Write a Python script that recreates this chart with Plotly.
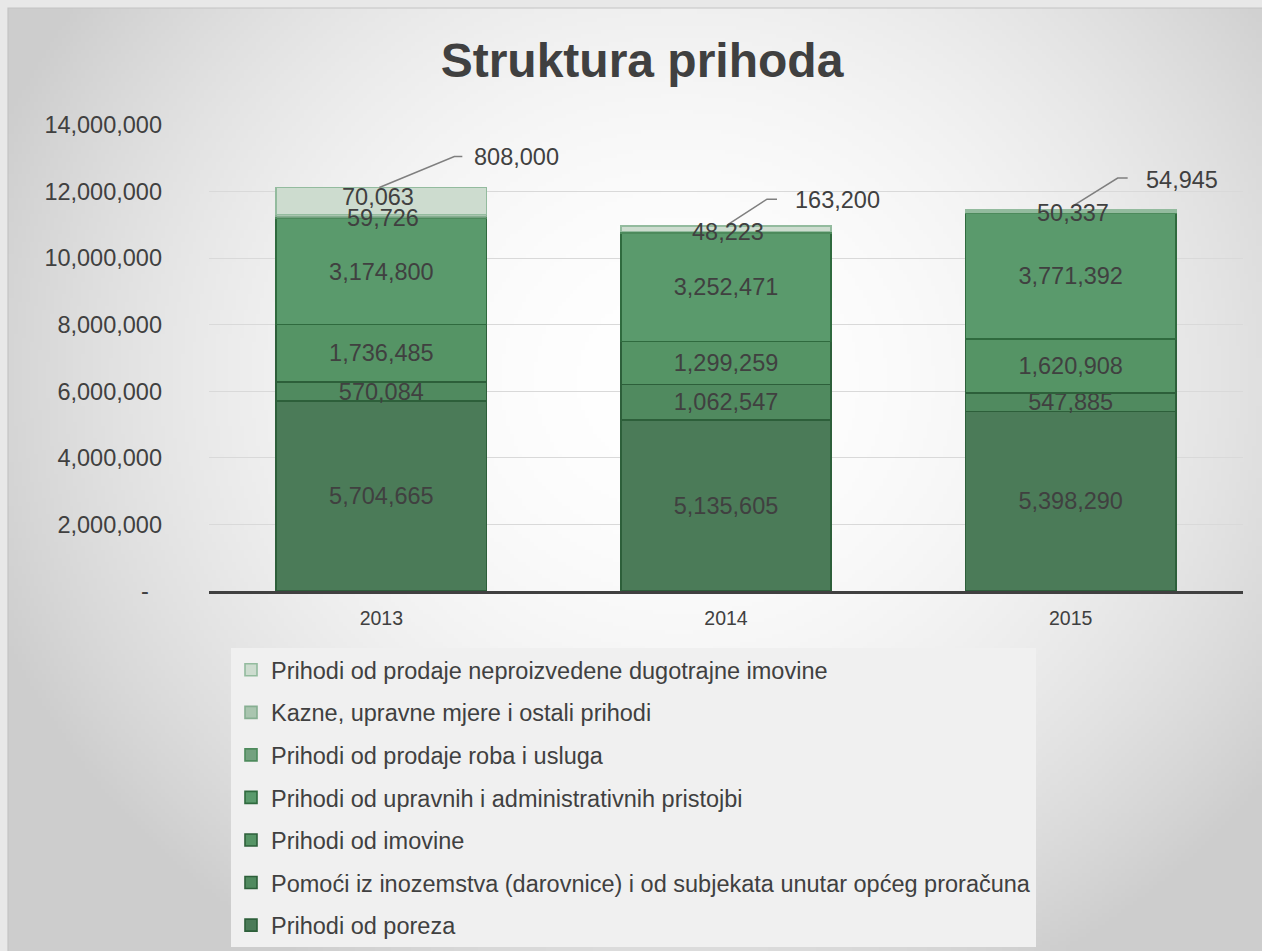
import base64
import struct
import zlib

import numpy as np
import plotly.graph_objects as go

# ---------------- data ----------------
years = ["2013", "2014", "2015"]

series_names = [
    "Prihodi od poreza",
    "Pomoći iz inozemstva (darovnice) i od subjekata unutar općeg proračuna",
    "Prihodi od imovine",
    "Prihodi od upravnih i administrativnih pristojbi",
    "Prihodi od prodaje roba i usluga",
    "Kazne, upravne mjere i ostali prihodi",
    "Prihodi od prodaje neproizvedene dugotrajne imovine",
]
poreza = [5704665, 5135605, 5398290]
pomoci = [570084, 1062547, 547885]
imovina = [1736485, 1299259, 1620908]
pristojbe = [3174800, 3252471, 3771392]
roba_usluge = [59726, 48223, 50337]
kazne = [70063, None, None]
neproizvedena = [808000, 163200, 54945]

y_tickvals = [0, 2000000, 4000000, 6000000, 8000000, 10000000, 12000000, 14000000]
y_ticktext = ["-\u00a0\u00a0", "2,000,000", "4,000,000", "6,000,000", "8,000,000",
              "10,000,000", "12,000,000", "14,000,000"]

# ---------------- style ----------------
FONT = "Liberation Sans, Arial, sans-serif"
TXT = "#404040"
fill_colors = ["#4b7b58", "#508a5f", "#559465", "#5a9a6c", "#73a17f", "#a9c5af", "#cddccf"]
line_colors = ["#2d5f3a", "#2d5f3a", "#2d5f3a", "#2f6a3e", "#4d8a5c", "#86ae91", "#93bb9e"]
W_PX, H_PX = 1262, 951
L, R, T, B = 209, 19, 125, 360
PW, PH = W_PX - L - R, H_PX - T - B

# leader-line geometry for the top callouts (pixels relative to bar top)
callout_geom = [
    dict(sx=-2, sy=0, mx=73, my=31, ex=81, tx=91, ty=30),
    dict(sx=1, sy=1, mx=41, my=27, ex=51, tx=67, ty=26),
    dict(sx=2, sy=4, mx=47, my=32, ex=57, tx=73, ty=30),
]

# ---------------- background gradient (png) ----------------
gw, gh = 316, 236
gx = np.linspace(8, W_PX, gw)
gy = np.linspace(8, H_PX, gh)
GX, GY = np.meshgrid(gx, gy)
d2 = ((GX - 680) / 740) ** 2 + ((GY - 380) / 680) ** 2
gray = (255 - 50 * np.clip(d2, 0, 1)).astype(np.uint8)
raw = b"".join(b"\x00" + gray[i].tobytes() for i in range(gh))


def _chunk(tag, data):
    return struct.pack(">I", len(data)) + tag + data + struct.pack(">I", zlib.crc32(tag + data) & 0xFFFFFFFF)


png = (b"\x89PNG\r\n\x1a\n"
       + _chunk(b"IHDR", struct.pack(">IIBBBBB", gw, gh, 8, 0, 0, 0, 0))
       + _chunk(b"IDAT", zlib.compress(raw, 9))
       + _chunk(b"IEND", b""))
bg_src = "data:image/png;base64," + base64.b64encode(png).decode()

# ---------------- figure ----------------
all_series = [poreza, pomoci, imovina, pristojbe, roba_usluge, kazne, neproizvedena]
n_series = len(all_series)
fig = go.Figure()
for i, (name, vals) in enumerate(zip(series_names, all_series)):
    big = i < 4
    fig.add_trace(go.Bar(
        x=years, y=vals, name=name, legendgroup=f"g{i}", legendrank=(n_series - i) * 10,
        marker=dict(color=fill_colors[i], line=dict(color=line_colors[i], width=1.6)),
        text=[f"{v:,}" if (big and v) else "" for v in vals],
        textposition="inside" if big else "none",
        insidetextanchor="middle", textangle=0, constraintext="none",
        textfont=dict(family=FONT, size=23.5, color=TXT),
        hoverinfo="x+y+name",
    ))


def cum_upto(k):
    return [sum((s[j] or 0) for s in all_series[:k]) for j in range(len(years))]


lab_font = dict(family=FONT, size=23.5, color=TXT)
annotations = []
base_roba = cum_upto(4)
for j in range(len(years)):
    v = roba_usluge[j]
    if v:
        annotations.append(dict(xref="x", yref="y", x=j, y=base_roba[j] + v / 2, text=f"{v:,}",
                                showarrow=False, xshift=2, font=lab_font))
base_kazne = cum_upto(5)
for j in range(len(years)):
    v = kazne[j]
    if v:
        annotations.append(dict(xref="x", yref="y", x=j, y=base_kazne[j] + v / 2, text=f"{v:,}",
                                showarrow=False, xshift=-3, yshift=19, font=lab_font))

shapes = []
totals = cum_upto(n_series)
for j in range(len(years)):
    v = neproizvedena[j]
    g = callout_geom[j]
    annotations.append(dict(xref="x", yref="y", x=j, y=totals[j], text=f"{v:,}", showarrow=False,
                            xanchor="left", yanchor="middle", xshift=g["tx"], yshift=g["ty"],
                            font=lab_font))
    shapes.append(dict(type="path", xref="x", yref="y", xsizemode="pixel", ysizemode="pixel",
                       xanchor=j, yanchor=totals[j],
                       path=f"M {g['sx']},{g['sy']} L {g['mx']},{g['my']} L {g['ex']},{g['my']}",
                       line=dict(color="#7f7f7f", width=1.5)))

# frame around chart
shapes.append(dict(type="rect", xref="paper", yref="paper",
                   x0=(8 - L) / PW, x1=(W_PX + 5 - L) / PW,
                   y0=1 + (T - 8) / PH, y1=-(H_PX + 5 - T - PH) / PH,
                   line=dict(color="#c4c4c4", width=1.2), layer="below"))

fig.update_layout(
    width=W_PX, height=H_PX,
    margin=dict(l=L, r=R, t=T, b=B, autoexpand=False),
    barmode="stack", bargap=0.39,
    paper_bgcolor="#e8e8e8", plot_bgcolor="rgba(0,0,0,0)",
    font=dict(family=FONT, color=TXT),
    title=dict(text="<b>Struktura prihoda</b>", x=642 / W_PX, xref="container", xanchor="center",
               y=1 - 60 / H_PX, yref="container", yanchor="middle",
               font=dict(family=FONT, size=48, color=TXT)),
    xaxis=dict(type="category", range=[-0.5, 2.5], showline=True, linecolor="#404040", linewidth=3,
               showgrid=False, ticks="", tickfont=dict(family=FONT, size=19.5, color=TXT),
               ticklabelstandoff=8),
    yaxis=dict(range=[0, 14000000], tickvals=y_tickvals, ticktext=y_ticktext, showline=False,
               showgrid=True, gridcolor="#d9d9d9", gridwidth=1.3, zeroline=False, ticks="",
               tickfont=dict(family=FONT, size=23.5, color=TXT), ticklabelstandoff=46),
    legend=dict(x=(231 - L) / PW, xanchor="left", y=-(648 - T - PH) / PH, yanchor="top",
                traceorder="grouped", tracegroupgap=9, itemwidth=30,
                bgcolor="#f0f0f0", font=dict(family=FONT, size=23.5, color=TXT)),
    annotations=annotations,
    shapes=shapes,
    images=[dict(source=bg_src, xref="paper", yref="paper",
                 x=(8 - L) / PW, y=1 + (T - 8) / PH,
                 sizex=(W_PX - 8) / PW, sizey=(H_PX - 8) / PH,
                 xanchor="left", yanchor="top", sizing="stretch", layer="below")],
    hovermode=False,
)

fig.write_html("out.html", config={"displayModeBar": False},
               post_script="document.body.style.margin='0';document.body.style.overflow='hidden';")
